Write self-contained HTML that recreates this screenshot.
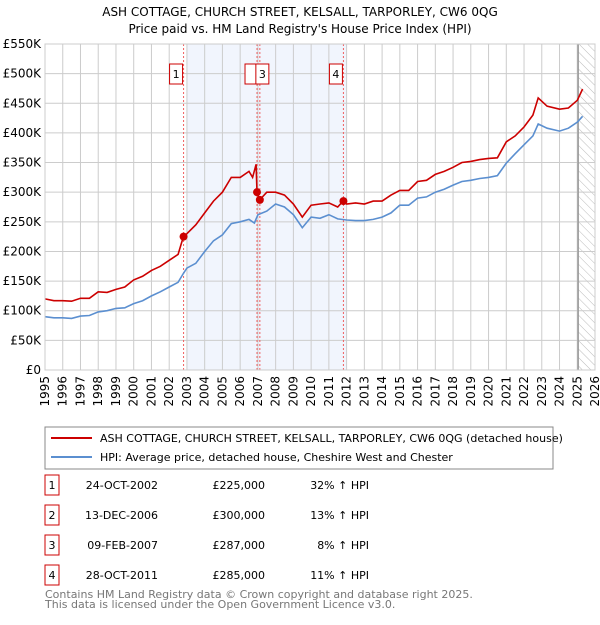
<!DOCTYPE html>
<html><head><meta charset="utf-8"><style>
body{margin:0;background:#fff;font-family:"Liberation Sans","DejaVu Sans",sans-serif;}
svg text{font-family:"DejaVu Sans","Liberation Sans",sans-serif;}
</style></head><body>
<svg id="c" width="600" height="620" xmlns="http://www.w3.org/2000/svg">
<defs><pattern id="hatch" width="6" height="6" patternUnits="userSpaceOnUse" patternTransform="rotate(-45)"><line x1="0" y1="0" x2="0" y2="6" stroke="#bbb" stroke-width="1"/></pattern></defs>
<text x="300" y="16" text-anchor="middle" font-size="12">ASH COTTAGE, CHURCH STREET, KELSALL, TARPORLEY, CW6 0QG</text>
<text x="300" y="33" text-anchor="middle" font-size="12">Price paid vs. HM Land Registry's House Price Index (HPI)</text>
<g id="plot"></g>
<rect x="45" y="427" width="508" height="42" fill="none" stroke="#888"/>
<line x1="51" y1="438" x2="92" y2="438" stroke="#cc0000" stroke-width="2"/>
<text x="100" y="442" font-size="11">ASH COTTAGE, CHURCH STREET, KELSALL, TARPORLEY, CW6 0QG (detached house)</text>
<line x1="51" y1="457" x2="92" y2="457" stroke="#5b8fd0" stroke-width="2"/>
<text x="100" y="461" font-size="11">HPI: Average price, detached house, Cheshire West and Chester</text>
<g id="table" font-size="11"></g>
<text x="45" y="598" font-size="11" fill="#777">Contains HM Land Registry data © Crown copyright and database right 2025.</text>
<text x="45" y="608" font-size="11" fill="#777">This data is licensed under the Open Government Licence v3.0.</text>
</svg>
<script>
const hpiYears=[1995,1995.5,1996,1996.5,1997,1997.5,1998,1998.5,1999,1999.5,2000,2000.5,2001,2001.5,2002,2002.5,2002.8,2003,2003.5,2004,2004.5,2005,2005.5,2006,2006.5,2006.8,2007,2007.5,2008,2008.5,2009,2009.5,2010,2010.5,2011,2011.5,2012,2012.5,2013,2013.5,2014,2014.5,2015,2015.5,2016,2016.5,2017,2017.5,2018,2018.5,2019,2019.5,2020,2020.5,2021,2021.5,2022,2022.5,2022.8,2023.3,2024,2024.5,2025,2025.3];
const hpiValues=[90,88,88,87,91,92,98,100,104,105,112,117,125,132,140,148,163,172,180,200,218,228,247,250,254,248,262,268,280,275,262,240,258,256,262,255,253,252,252,254,258,265,278,278,290,292,300,305,312,318,320,323,325,328,349,365,380,395,415,408,403,408,418,428];
const priceYears=[1995,1995.5,1996,1996.5,1997,1997.5,1998,1998.5,1999,1999.5,2000,2000.5,2001,2001.5,2002,2002.5,2002.8,2003,2003.5,2004,2004.5,2005,2005.5,2006,2006.5,2006.7,2006.9,2006.95,2007.1,2007.5,2008,2008.5,2009,2009.5,2010,2010.5,2011,2011.5,2011.8,2012,2012.5,2013,2013.5,2014,2014.5,2015,2015.5,2016,2016.5,2017,2017.5,2018,2018.5,2019,2019.5,2020,2020.5,2021,2021.5,2022,2022.5,2022.8,2023.3,2024,2024.5,2025,2025.3];
const priceValues=[120,117,117,116,121,121,132,131,136,140,152,158,168,175,185,195,225,230,245,265,285,300,325,325,335,325,347,300,287,300,300,295,280,258,278,280,282,275,285,280,282,280,285,285,295,303,303,318,320,330,335,342,350,352,355,357,358,385,395,410,430,459,445,440,442,455,474];
const saleLabels=["1","2","3","4"];
const saleYears=[2002.81,2006.95,2007.11,2011.82];
const saleValues=[225,300,287,285];
const saleDates=["24-OCT-2002","13-DEC-2006","09-FEB-2007","28-OCT-2011"];
const salePrices=["£225,000","£300,000","£287,000","£285,000"];
const salePct=["32% ↑ HPI","13% ↑ HPI","8% ↑ HPI","11% ↑ HPI"];
const yTicks=[0,50,100,150,200,250,300,350,400,450,500,550];
const yTickLabels=["£0","£50K","£100K","£150K","£200K","£250K","£300K","£350K","£400K","£450K","£500K","£550K"];
const xTicks=[1995,1996,1997,1998,1999,2000,2001,2002,2003,2004,2005,2006,2007,2008,2009,2010,2011,2012,2013,2014,2015,2016,2017,2018,2019,2020,2021,2022,2023,2024,2025,2026];
const NS="http://www.w3.org/2000/svg";
const X0=45,X1=595,Y0=370,Y1=44;
const xs=y=>X0+(y-1995)/(2026-1995)*(X1-X0);
const ys=v=>Y0-v/550*(Y0-Y1);
const g=document.getElementById('plot');
function mk(t,a,parent){const e=document.createElementNS(NS,t);for(const k in a)e.setAttribute(k,a[k]);(parent||g).appendChild(e);return e;}
let e;
e=mk('rect',{x:xs(2003),y:Y1,width:xs(2012)-xs(2003),height:Y0-Y1,fill:'#eef3fc',opacity:0.8});


e=mk('rect',{x:xs(2025.05),y:Y1,width:X1-xs(2025.05),height:Y0-Y1,fill:'url(#hatch)'});


yTicks.forEach((v,i)=>{
 e=mk('line',{x1:X0,x2:X1,y1:ys(v),y2:ys(v),stroke:'#ccc'});
 
 
 e=mk('text',{x:X0-4,y:ys(v)+4,'text-anchor':'end','font-size':12});
 e.textContent=yTickLabels[i];
 
 
});
xTicks.forEach(yr=>{
 e=mk('line',{x1:xs(yr),x2:xs(yr),y1:Y1,y2:Y0,stroke:'#ccc'});
 
 
 e=mk('text',{x:0,y:0,'text-anchor':'end','font-size':12,transform:`translate(${xs(yr)+4},${Y0+6}) rotate(-90)`});
 e.textContent=yr;
 
 
});
e=mk('line',{x1:xs(2025.05),x2:xs(2025.05),y1:Y1,y2:Y0,stroke:'#999','stroke-width':1.5});


saleYears.forEach((yr,i)=>{
 e=mk('line',{x1:xs(yr),x2:xs(yr),y1:Y1,y2:Y0,stroke:'#f06060','stroke-dasharray':'2,2'});
 
 
});
function path(xa,va,col,name){
 const d=xa.map((x,i)=>(i?'L':'M')+xs(x).toFixed(1)+','+ys(va[i]).toFixed(1)).join('');
 const p=mk('path',{d:d,fill:'none',stroke:col,'stroke-width':1.6});
 
 
}
path(hpiYears,hpiValues,'#5b8fd0','hpi-line');
path(priceYears,priceValues,'#cc0000','price-paid-line');
saleYears.forEach((yr,i)=>{
 e=mk('circle',{cx:xs(yr),cy:ys(saleValues[i]),r:4,fill:'#cc0000'});
 
 
});
saleYears.forEach((yr,i)=>{
 const bx=xs(yr)-(i==1?12:i==2?0:14)+ (i==2?-4:0);
 e=mk('rect',{x:bx,y:64,width:13,height:20,fill:'#fff',stroke:'#cc0000'});
 
 
 e=mk('text',{x:bx+6.5,y:78,'text-anchor':'middle','font-size':11});
 e.textContent=i==1?'':saleLabels[i];
 
 
});
mk('rect',{x:X0,y:Y1,width:X1-X0,height:Y0-Y1,fill:'none',stroke:'#ccc'});
const t=document.getElementById('table');
saleLabels.forEach((l,i)=>{
 const y=485+i*30;
 e=mk('rect',{x:45,y:y-10,width:14,height:20,fill:'#fff',stroke:'#cc0000'},t);
 
 
 e=mk('text',{x:52,y:y+4,'text-anchor':'middle'},t);e.textContent=l;
 
 
 e=mk('text',{x:158,y:y+4,'text-anchor':'end'},t);e.textContent=saleDates[i];
 
 
 e=mk('text',{x:265,y:y+4,'text-anchor':'end'},t);e.textContent=salePrices[i];
 
 
 e=mk('text',{x:369,y:y+4,'text-anchor':'end'},t);e.textContent=salePct[i];
 
 
});
</script>
</body></html>
